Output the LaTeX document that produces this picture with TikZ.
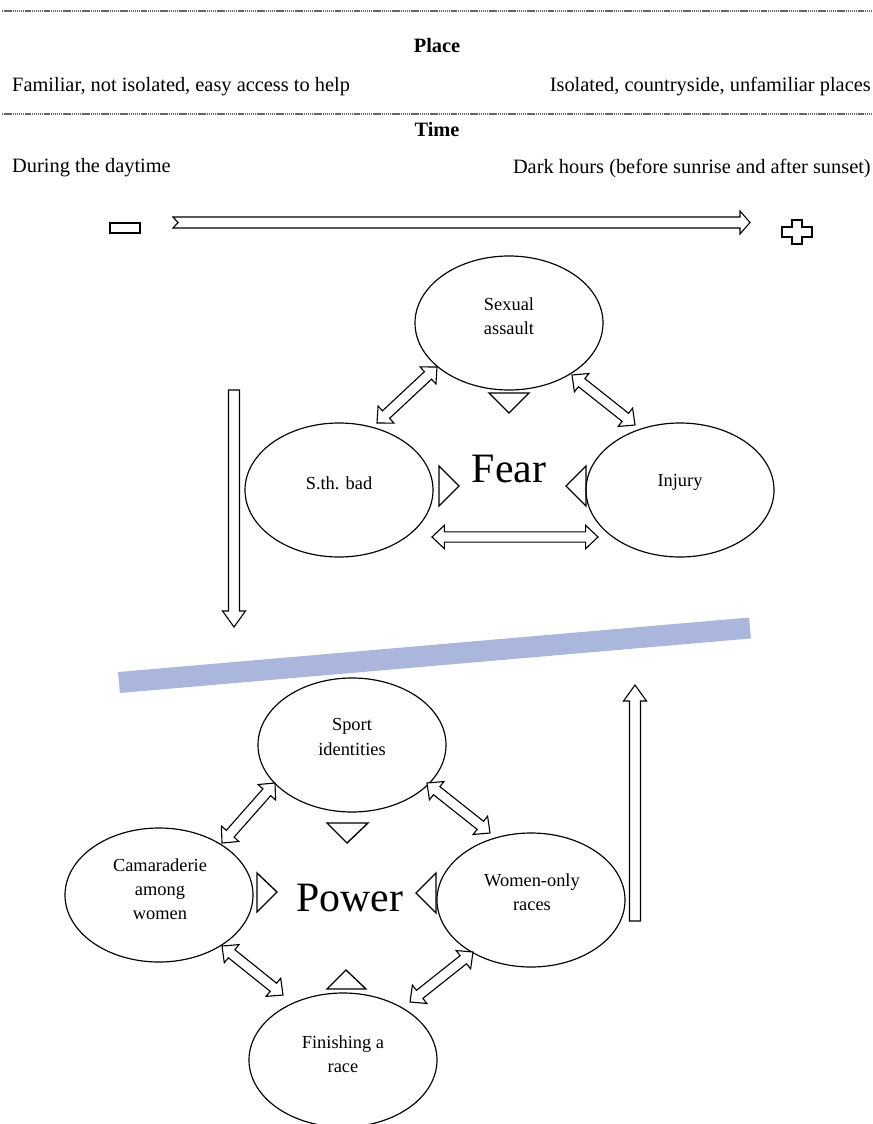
\documentclass[tikz,border=0pt]{standalone}
\usepackage{fontspec}
\setmainfont{Liberation Serif}
\usetikzlibrary{calc,shapes.geometric}
\definecolor{barblue}{RGB}{170,182,220}
\newcommand\arrL{0.37cm}
\newcommand\arrW{0.155cm}
\newcommand\arrH{0.35cm}
\newcommand\dblarr[2]{%
  \coordinate (da1) at ($(#1)!\arrL!(#2)$);
  \coordinate (da2) at ($(#2)!\arrL!(#1)$);
  \draw[blkarrow] (#1) -- ($(da1)!\arrH!90:(#2)$) -- ($(da1)!\arrW!90:(#2)$)
    -- ($(da2)!\arrW!-90:(#1)$) -- ($(da2)!\arrH!-90:(#1)$) -- (#2)
    -- ($(da2)!\arrH!90:(#1)$) -- ($(da2)!\arrW!90:(#1)$)
    -- ($(da1)!\arrW!-90:(#2)$) -- ($(da1)!\arrH!-90:(#2)$) -- cycle;}
\begin{document}
\begin{tikzpicture}[x=0.03cm,y=-0.03cm,
  sepline/.style={gray!80!black,line width=1.1pt,dash pattern=on 1.2pt off 0.6pt},
  toptext/.style={font=\fontsize{17.4}{20}\selectfont,inner sep=0pt},
  headtext/.style={font=\fontsize{17.4}{20}\selectfont\bfseries,inner sep=0pt},
  oval/.style={ellipse,draw,line width=1pt,minimum width=5.64cm,minimum height=4.02cm,inner sep=0pt},
  ovaltext/.style={font=\fontsize{15.7}{20.5}\selectfont,align=center,inner sep=0pt},
  bigtext/.style={font=\fontsize{35.7}{40}\selectfont,inner sep=0pt},
  tri/.style={draw,line width=1.15pt,line join=miter},
  blkarrow/.style={draw,line width=0.95pt,line join=miter,fill=white},
  sign/.style={draw,line width=1.4pt,line join=miter}]
\useasboundingbox (0,0) rectangle (873,1124);
% header
\draw[sepline] (2,11) -- (871,11);
\draw[sepline] (2,114) -- (871,114);
\node[headtext] (place) at (437,46) {Place};
\node[toptext,anchor=west] (fam) at (12,87) {Familiar, not isolated, easy access to help};
\node[toptext,anchor=east] (iso) at (871,87) {Isolated, countryside, unfamiliar places};
\node[headtext] (time) at (437,130) {Time};
\node[toptext,anchor=west] (day) at (12,168) {During the daytime};
\node[toptext,anchor=east] (dark) at (871,168) {Dark hours (before sunrise and after sunset)};
% scale arrow
\draw[sign] (110,223) rectangle (140,233);
\draw[blkarrow] (173,217) -- (740,217) -- (740,211) -- (750,222.5) -- (740,234) -- (740,228) -- (173,228) -- (178,222.5) -- cycle;
\draw[sign] (792,220) -- (802,220) -- (802,227) -- (812,227) -- (812,237) -- (802,237) -- (802,244) -- (792,244) -- (792,237) -- (782,237) -- (782,227) -- (792,227) -- cycle;
% Fear
\node[oval] (sa) at (509,323) {};
\node[oval] (sth) at (339,490) {};
\node[oval] (inj) at (680,490) {};
\node[ovaltext] (sat) at (509,316) {Sexual\\assault};
\node[ovaltext] (stht) at (339,483) {S.th. bad};
\node[ovaltext] (injt) at (680,482) {Injury};
\node[bigtext] (fear) at (509,469) {Fear};
\draw[tri] (489,393) -- (529,393) -- (509,413) -- cycle;
\draw[tri] (439,466) -- (439,506) -- (459,486) -- cycle;
\draw[tri] (586,466) -- (586,506) -- (566,486) -- cycle;
\coordinate (f1a) at (437,367); \coordinate (f1b) at (377,423);
\coordinate (f2a) at (572,375); \coordinate (f2b) at (635,425);
\coordinate (f3a) at (432,537); \coordinate (f3b) at (598,537);
\dblarr{f1a}{f1b}
\dblarr{f2a}{f2b}
\dblarr{f3a}{f3b}
% vertical arrows
\draw[blkarrow] (228.5,390) -- (239.5,390) -- (239.5,611) -- (245.5,611) -- (234,627) -- (222.5,611) -- (228.5,611) -- cycle;
\draw[blkarrow] (629.5,921) -- (640.5,921) -- (640.5,701) -- (646.5,701) -- (635,685) -- (623.5,701) -- (629.5,701) -- cycle;
% bar
\draw[barblue,line width=0.63cm] (119,682.5) -- (750,628);
% Power
\node[oval] (sport) at (352,745) {};
\node[oval] (cam) at (159,895) {};
\node[oval] (wom) at (531,900) {};
\node[oval] (fin) at (343,1060) {};
\node[ovaltext] (sportt) at (352,737) {Sport\\identities};
\node[ovaltext] (camt) at (160,889) {Camaraderie\\among\\women};
\node[ovaltext] (womt) at (532,892) {Women-only\\races};
\node[ovaltext] (fint) at (343,1054) {Finishing a\\race};
\node[bigtext] (power) at (350,898) {Power};
\draw[tri] (327,823) -- (368,823) -- (347,843) -- cycle;
\draw[tri] (257,873) -- (257,912) -- (277,892) -- cycle;
\draw[tri] (436,873) -- (436,913) -- (416,893) -- cycle;
\draw[tri] (327,989) -- (366,989) -- (346,970) -- cycle;
\coordinate (p1a) at (275,783); \coordinate (p1b) at (222,843);
\coordinate (p2a) at (427,783); \coordinate (p2b) at (490,833);
\coordinate (p3a) at (222,946); \coordinate (p3b) at (283,995);
\coordinate (p4a) at (473,952); \coordinate (p4b) at (410,1002);
\dblarr{p1a}{p1b}
\dblarr{p2a}{p2b}
\dblarr{p3a}{p3b}
\dblarr{p4a}{p4b}
\end{tikzpicture}
\end{document}
